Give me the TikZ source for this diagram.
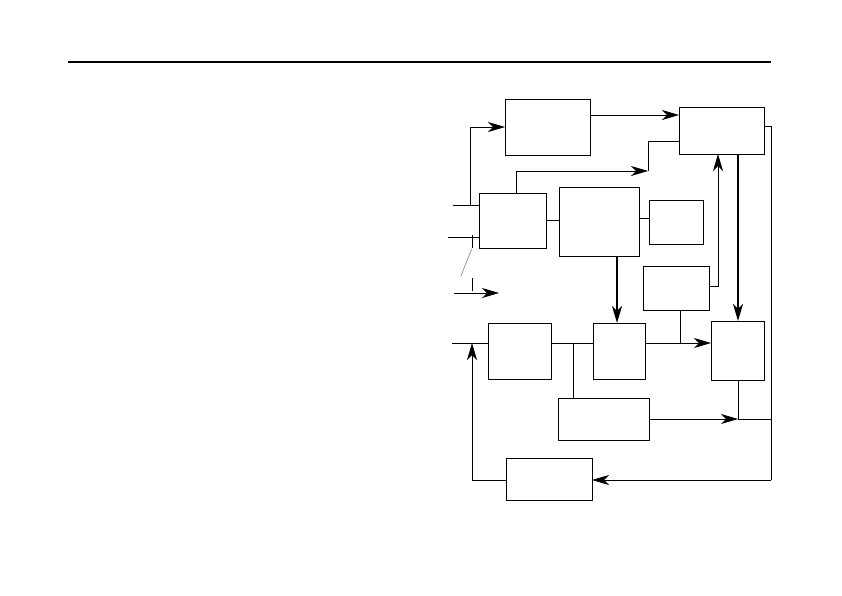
\documentclass[tikz,border=0pt]{standalone}
\usetikzlibrary{arrows.meta}
\begin{document}
\begin{tikzpicture}
[
    x=1pt, y=-1pt,
    blk/.style={draw, line width=0.8pt, rectangle, anchor=north west, inner sep=0pt, outer sep=0pt},
    wire/.style={draw, line width=0.8pt},
    arr/.style={wire, -{Stealth[length=17pt, width=10pt, inset=5pt]}},
    bigarr/.style={draw, line width=2.2pt, -{Stealth[length=17pt, width=10pt, inset=5pt]}}
]
    \useasboundingbox (0,0) rectangle (842,595);
    \draw[line width=2pt] (68,62) -- (771,62);

    \node [blk, minimum width=85pt, minimum height=56pt] (gen) at (505,99) {};
    \node [blk, minimum width=85pt, minimum height=47pt] (ctrl) at (679,107) {};
    \node [blk, minimum width=67pt, minimum height=55pt] (sel) at (479,193) {};
    \node [blk, minimum width=80pt, minimum height=69pt] (proc) at (559,187) {};
    \node [blk, minimum width=54pt, minimum height=44pt] (aux) at (649,200) {};
    \node [blk, minimum width=66pt, minimum height=44pt] (ref) at (643,266) {};
    \node [blk, minimum width=53pt, minimum height=59pt] (out) at (711,321) {};
    \node [blk, minimum width=63pt, minimum height=56pt] (pre) at (488,323) {};
    \node [blk, minimum width=52pt, minimum height=56pt] (mix) at (593,323) {};
    \node [blk, minimum width=91pt, minimum height=42pt] (det) at (558,398) {};
    \node [blk, minimum width=86pt, minimum height=42pt] (fb) at (506,458) {};

    \coordinate (inA) at (453,205);
    \coordinate (inB) at (448,237);
    \coordinate (inC) at (452,343);
    \coordinate (tapA) at (470,205);
    \coordinate (kink) at (648,171);
    \coordinate (railT) at (771,126);
    \coordinate (railM) at (771,419);
    \coordinate (railB) at (771,480);
    \coordinate (sumR) at (738,419);
    \coordinate (tapC) at (573,343);
    \coordinate (tapF) at (680,343);
    \coordinate (fbL) at (472,480);
    \coordinate (swA) at (472,235);
    \coordinate (swB) at (472,278);
    \coordinate (outA) at (454,293);
    \coordinate (outB) at (499,293);

    \draw[wire] (inA) -- (inA -| sel.west);
    \draw[arr] (tapA) |- (gen.west);
    \draw[arr] (gen.east |- 0,115) -- (ctrl.west |- 0,115);
    \draw[arr] ([xshift=4pt]sel.north) |- (kink);
    \draw[wire] (kink) |- (ctrl.west |- 0,141);
    \draw[wire] (sel.east) -- (sel.east -| proc.west);
    \draw[wire] (proc.east |- 0,218) -- (aux.west |- 0,218);
    \draw[bigarr] (proc.south -| 617,0) -- (mix.north -| 617,0);
    \draw[bigarr] (ctrl.south -| sumR) -- (out.north -| sumR);
    \draw[arr] (ref.east |- 0,286) -| (ctrl.south -| 718,0);
    \draw[wire] (ctrl.east |- railT) -- (railT) -- (railB);
    \draw[arr] (railB) -- (fb.east |- railB);

    \draw[wire] (inB) -- (inB -| sel.west);
    \draw[wire] (swA) -- ++(0,13);
    \draw[gray, line width=0.6pt] (471.7,249) -- (461,275.7);
    \draw[wire] (swB) -- ++(0,13);
    \draw[arr] (outA) -- (outB);

    \draw[wire] (inC) -- (inC -| pre.west);
    \draw[wire] (pre.east |- inC) -- (mix.west |- inC);
    \draw[wire] (tapC) -- (tapC |- det.north);
    \draw[arr] (mix.east |- inC) -- (out.west |- inC);
    \draw[wire] (tapF |- ref.south) -- (tapF);
    \draw[arr] (det.east |- sumR) -- (sumR);
    \draw[wire] (out.south -| sumR) -- (sumR) -- (railM);
    \draw[arr] (fb.west |- fbL) -- (fbL) -- (fbL |- inC);
\end{tikzpicture}
\end{document}
